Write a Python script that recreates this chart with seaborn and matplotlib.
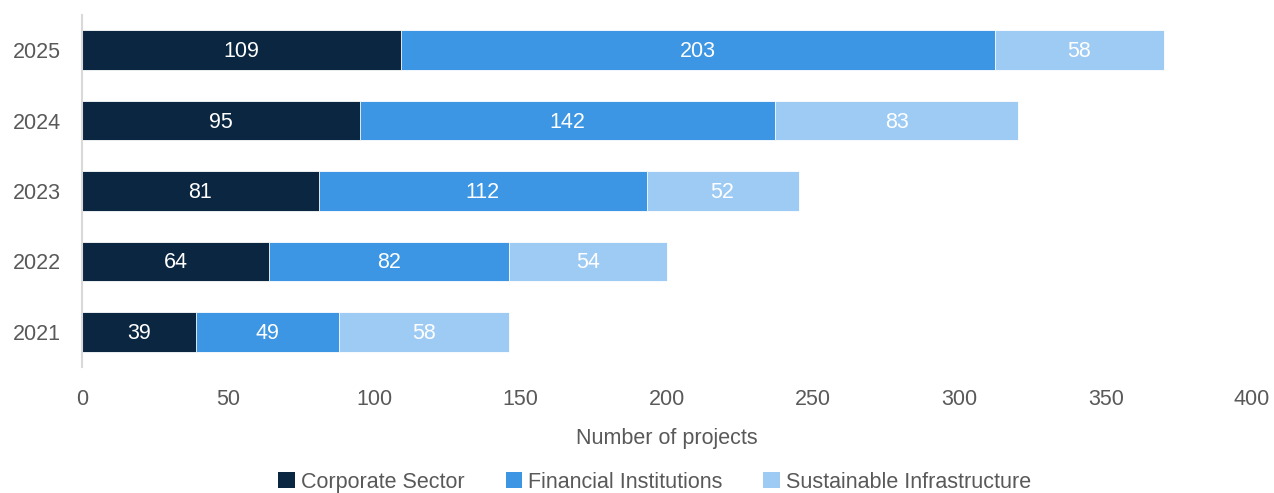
import matplotlib
matplotlib.use("Agg")
import matplotlib.pyplot as plt
import seaborn as sns
import pandas as pd
import numpy as np
from matplotlib.patches import Patch

years = ["2025", "2024", "2023", "2022", "2021"]
corporate = [109, 95, 81, 64, 39]
financial = [203, 142, 112, 82, 49]
infrastructure = [58, 83, 52, 54, 58]
series_names = ["Corporate Sector", "Financial Institutions", "Sustainable Infrastructure"]
colors = ["#0B2641", "#3C96E3", "#9ECBF3"]
x_ticks = [0, 50, 100, 150, 200, 250, 300, 350, 400]

sns.set_theme(style="white")
plt.rcParams["font.family"] = ["Liberation Sans", "DejaVu Sans"]
text_grey = "#595959"

df = pd.DataFrame({
    "year": years,
    series_names[0]: corporate,
    series_names[1]: financial,
    series_names[2]: infrastructure,
})
values = df[series_names].to_numpy(dtype=float)
cumulative = values.cumsum(axis=1)

fig = plt.figure(figsize=(12.74, 4.93), dpi=100)
ax = fig.add_axes([82 / 1274, 1 - 367 / 493, 1170 / 1274, 352 / 493])

# stacked bars: draw running totals from the outermost segment inwards
for i in reversed(range(len(series_names))):
    layer = pd.DataFrame({"year": years, "total": cumulative[:, i]})
    sns.barplot(data=layer, x="total", y="year", order=years, orient="h",
                color=colors[i], saturation=1, width=0.56,
                edgecolor="white", linewidth=0.6, ax=ax)

# segment value labels
for j, yr in enumerate(years):
    for i in range(len(series_names)):
        left = cumulative[j, i] - values[j, i]
        ax.text(left + values[j, i] / 2, j + 0.02, f"{int(values[j, i])}",
                ha="center", va="center", color="white", fontsize=15.5)

ax.set_xlim(0, 400)
ax.set_xticks(x_ticks)
ax.set_xticklabels([str(t) for t in x_ticks])
ax.set_ylim(4.5, -0.5)
ax.set_xlabel("Number of projects", fontsize=15.5, color=text_grey, labelpad=13)
ax.set_ylabel("")
ax.tick_params(axis="both", labelsize=15.5, colors=text_grey, length=0)
ax.tick_params(axis="x", pad=16)
ax.tick_params(axis="y", pad=15)
for side in ["top", "right", "bottom"]:
    ax.spines[side].set_visible(False)
ax.spines["left"].set_color("#D9D9D9")
ax.spines["left"].set_linewidth(1.5)

handles = [Patch(facecolor=c, edgecolor="none") for c in colors]
fig.legend(handles, series_names, loc="lower center", bbox_to_anchor=(0.514, -0.039),
           ncol=3, frameon=False, fontsize=15.5, handlelength=0.75, handleheight=0.75,
           handletextpad=0.3, columnspacing=1.9, labelcolor=text_grey)

fig.savefig("out.png", dpi=100)
